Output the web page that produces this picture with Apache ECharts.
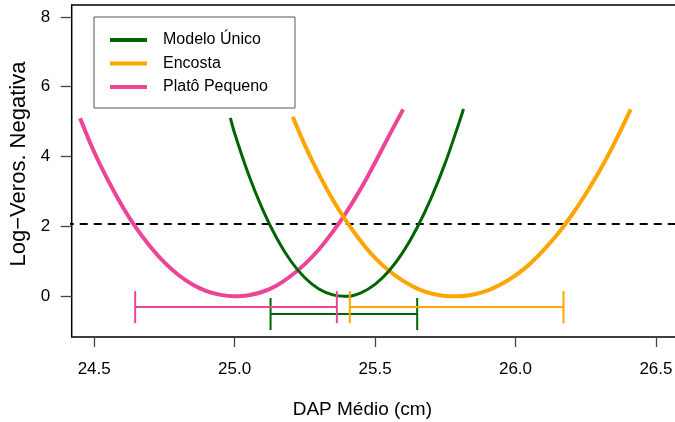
<!DOCTYPE html>
<html>
<head>
<meta charset="utf-8">
<script src="https://cdn.jsdelivr.net/npm/echarts@6/dist/echarts.min.js"></script>
<style>
  html, body { margin: 0; padding: 0; background: #fff; }
  #chart { width: 675px; height: 422px; }
</style>
</head>
<body>
<div id="chart"></div>
<script>
// Negative log-likelihood profiles of mean DBH (DAP) per model
const seriesNames = ['Modelo Único', 'Encosta', 'Platô Pequeno'];
const seriesColors = ['#006400', '#FFA500', '#EC4595'];

const unicoX = [24.985, 25.00, 25.05, 25.10, 25.15, 25.20, 25.25, 25.30, 25.35, 25.39, 25.40, 25.45, 25.50, 25.55, 25.60, 25.65, 25.70, 25.75, 25.80, 25.815];
const unicoY = [5.11, 4.67, 3.48, 2.48, 1.66, 1.01, 0.53, 0.21, 0.04, 0.00, 0.00, 0.10, 0.34, 0.73, 1.27, 1.97, 2.82, 3.82, 4.99, 5.36];

const encostaX = [25.207, 25.25, 25.30, 25.35, 25.40, 25.45, 25.50, 25.55, 25.60, 25.65, 25.70, 25.75, 25.79, 25.80, 25.85, 25.90, 25.95, 26.00, 26.05, 26.10, 26.15, 26.20, 26.25, 26.30, 26.35, 26.41];
const encostaY = [5.14, 4.33, 3.50, 2.76, 2.12, 1.57, 1.10, 0.73, 0.44, 0.22, 0.08, 0.01, 0.00, 0.00, 0.05, 0.16, 0.35, 0.60, 0.92, 1.32, 1.78, 2.32, 2.93, 3.60, 4.35, 5.35];

const platoX = [24.45, 24.50, 24.55, 24.60, 24.65, 24.70, 24.75, 24.80, 24.85, 24.90, 24.95, 25.00, 25.01, 25.05, 25.10, 25.15, 25.20, 25.25, 25.30, 25.35, 25.40, 25.45, 25.50, 25.55, 25.60];
const platoY = [5.10, 4.13, 3.31, 2.58, 1.95, 1.42, 0.97, 0.61, 0.34, 0.15, 0.04, 0.00, 0.00, 0.03, 0.13, 0.31, 0.58, 0.92, 1.34, 1.85, 2.43, 3.09, 3.83, 4.60, 5.35];

// Likelihood-interval cut-off
const cutoff = 2.07;

// Intervals: lower, upper, vertical position (same order as seriesNames)
const ciLow = [25.128, 25.410, 24.646];
const ciHigh = [25.650, 26.171, 25.364];
const ciLevel = [-0.51, -0.31, -0.31];

const xTicks = [24.5, 25.0, 25.5, 26.0, 26.5];
const yTicks = [0, 2, 4, 6, 8];

const zip = (xs, ys) => xs.map((x, i) => [x, ys[i]]);
const curves = [zip(unicoX, unicoY), zip(encostaX, encostaY), zip(platoX, platoY)];
const curveWidths = [3, 4, 4];

const chart = echarts.init(document.getElementById('chart'), null, { renderer: 'canvas' });

const fontFamily = '"Liberation Sans", Arial, Helvetica, sans-serif';

const lineSeries = seriesNames.map((name, i) => ({
  name: name,
  type: 'line',
  data: curves[i],
  smooth: 0.35,
  showSymbol: false,
  color: seriesColors[i],
  lineStyle: { width: curveWidths[i], color: seriesColors[i] },
  z: 5 - i,
  silent: true,
  animation: false
}));

const ciSeries = {
  type: 'custom',
  name: 'ci',
  silent: true,
  animation: false,
  z: 10,
  data: ciLow.map((lo, i) => [lo, ciHigh[i], ciLevel[i], i]),
  renderItem: function (params, api) {
    const lo = api.coord([api.value(0), api.value(2)]);
    const hi = api.coord([api.value(1), api.value(2)]);
    const col = seriesColors[api.value(3)];
    const cap = 16;
    const style = { stroke: col, lineWidth: 2 };
    return {
      type: 'group',
      children: [
        { type: 'line', shape: { x1: lo[0], y1: lo[1], x2: hi[0], y2: hi[1] }, style: style },
        { type: 'line', shape: { x1: lo[0], y1: lo[1] - cap, x2: lo[0], y2: lo[1] + cap }, style: style },
        { type: 'line', shape: { x1: hi[0], y1: hi[1] - cap, x2: hi[0], y2: hi[1] + cap }, style: style }
      ]
    };
  }
};

const cutoffSeries = {
  type: 'line',
  name: 'cutoff',
  data: [[24.0, cutoff], [27.0, cutoff]],
  showSymbol: false,
  silent: true,
  animation: false,
  lineStyle: { color: '#000', width: 2, type: [8, 6] },
  z: 1
};

chart.setOption({
  animation: false,
  backgroundColor: '#fff',
  textStyle: { fontFamily: fontFamily },
  grid: {
    left: 71.7, right: -2, top: 5, bottom: 85,
    outerBoundsMode: 'none',
    containLabel: false,
    show: true, borderColor: '#000', borderWidth: 1.5, backgroundColor: 'transparent'
  },
  legend: {
    data: seriesNames,
    orient: 'vertical',
    left: 94, top: 17,
    padding: [14, 27, 12, 16],
    itemGap: 5.5,
    itemWidth: 37, itemHeight: 4,
    icon: 'rect',
    borderColor: '#555', borderWidth: 1,
    backgroundColor: '#fff',
    textStyle: { fontSize: 16, color: '#000', lineHeight: 18, padding: [0, 0, 0, 11], fontFamily: fontFamily }
  },
  xAxis: {
    type: 'value',
    min: 24.42, max: 26.575,
    name: 'DAP Médio (cm)',
    nameLocation: 'middle',
    nameGap: 63,
    nameTextStyle: { fontSize: 19, color: '#000', padding: [0, 24, 0, 0] },
    axisLine: { show: false, onZero: false },
    splitLine: { show: false },
    axisTick: { show: true, length: 10, customValues: xTicks, lineStyle: { color: '#444', width: 1.3 } },
    axisLabel: { customValues: xTicks, margin: 24, fontSize: 17, color: '#000', formatter: v => v.toFixed(1) }
  },
  yAxis: {
    type: 'value',
    min: -1.166, max: 8.34,
    name: 'Log−Veros. Negativa',
    nameLocation: 'middle',
    nameGap: 42,
    nameRotate: 90,
    nameTextStyle: { fontSize: 22, color: '#000', padding: [0, 0, 0, 14] },
    axisLine: { show: false, onZero: false },
    splitLine: { show: false },
    axisTick: { show: true, length: 11, customValues: yTicks, lineStyle: { color: '#444', width: 1.3 } },
    axisLabel: { customValues: yTicks, margin: 21.5, fontSize: 17, color: '#000' }
  },
  series: [cutoffSeries].concat(lineSeries).concat([ciSeries])
});
</script>
</body>
</html>
